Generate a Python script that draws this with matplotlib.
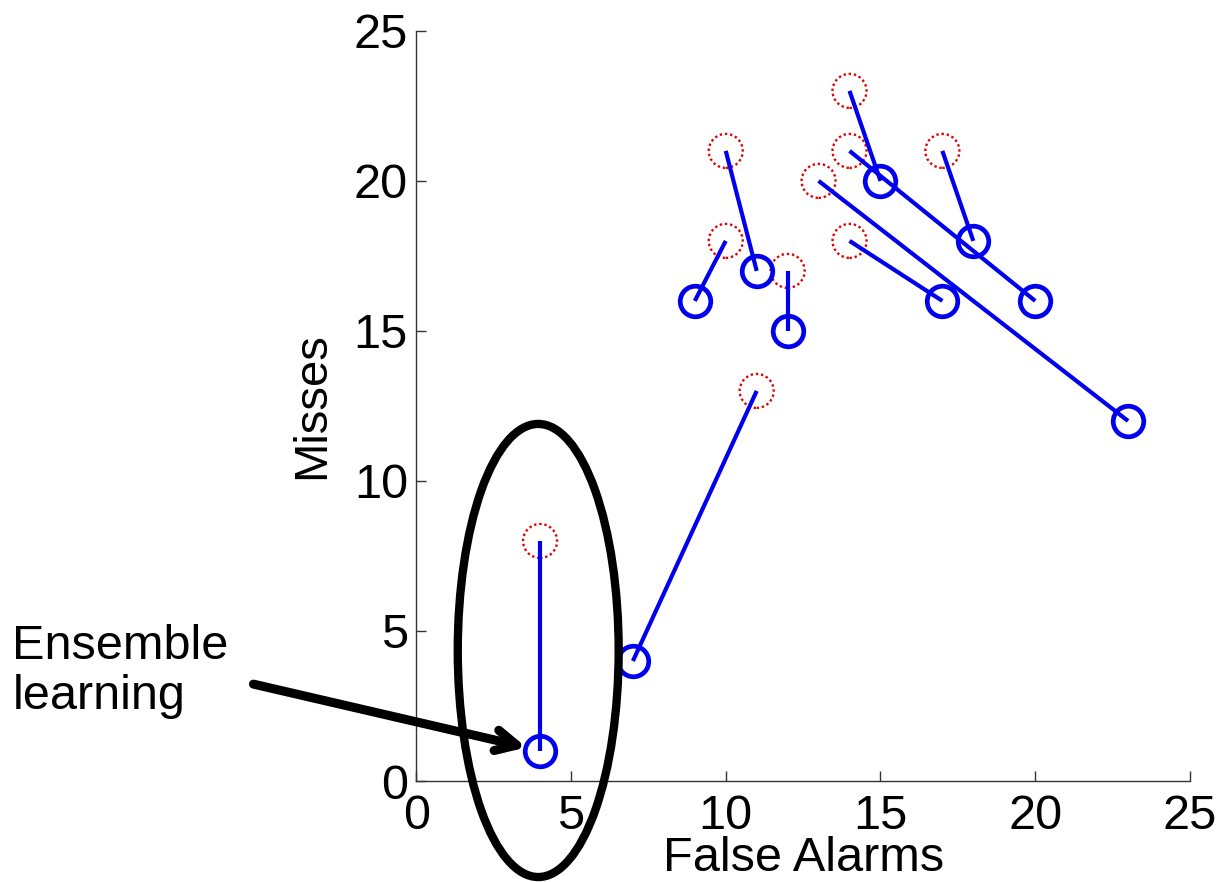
import matplotlib.pyplot as plt
from matplotlib.patches import Ellipse

# start (single model) and end (after combining) positions of each detector
fa_before = [4, 11, 10, 10, 12, 14, 17, 14, 13, 14]
miss_before = [8, 13, 18, 21, 17, 23, 21, 21, 20, 18]
fa_after = [4, 7, 9, 11, 12, 15, 18, 20, 23, 17]
miss_after = [1, 4, 16, 17, 15, 20, 18, 16, 12, 16]

ticks = [0, 5, 10, 15, 20, 25]

plt.rcParams['font.family'] = ['Liberation Sans', 'DejaVu Sans']

fig = plt.figure(figsize=(12.28, 8.82), dpi=100)
ax = fig.add_axes([0.339, 0.1145, 0.63, 0.8505])

# red dotted circles for the starting points
ax.scatter(fa_before, miss_before, s=600, facecolors='none', edgecolors='#e00000',
           linewidths=1.7, linestyles=(0, (1.0, 1.2)), zorder=2)

# blue lines joining each pair
for x0, y0, x1, y1 in zip(fa_before, miss_before, fa_after, miss_after):
    ax.plot([x0, x1], [y0, y1], color='#0000ee', lw=3, solid_capstyle='butt', zorder=3)

ax.plot(fa_after, miss_after, 'o', ms=22, mfc='none', mec='#0000ee', mew=3.4, zorder=4)

ax.set_xlim(0, 25)
ax.set_ylim(0, 25)
ax.set_xticks(ticks)
ax.set_yticks(ticks)
ax.tick_params(direction='in', length=7, width=1, labelsize=35, color='#333333')
ax.tick_params(axis='x', pad=9)
ax.tick_params(axis='y', pad=6)
for s in ['top', 'right']:
    ax.spines[s].set_visible(False)
for s in ['left', 'bottom']:
    ax.spines[s].set_color('#333333')
    ax.spines[s].set_linewidth(1)

ax.set_xlabel('False Alarms', fontsize=35, labelpad=-2)
ax.set_ylabel('Misses', fontsize=34, labelpad=14)

# ellipse highlighting the ensemble result
ell = Ellipse((3.94, 4.35), 5.2, 15.1, fill=False, edgecolor='black', lw=6, clip_on=False, zorder=5)
ax.add_patch(ell)

ax.annotate('', xy=(3.65, 1.1), xytext=(-5.35, 3.25),
            arrowprops=dict(arrowstyle='->, head_length=1.5, head_width=0.75', lw=6.5, color='black'),
            annotation_clip=False, zorder=6)

fig.text(0.01, 0.292, 'Ensemble\nlearning', fontsize=35, ha='left', va='top', linespacing=1.12)

plt.savefig('out.png', dpi=100)
